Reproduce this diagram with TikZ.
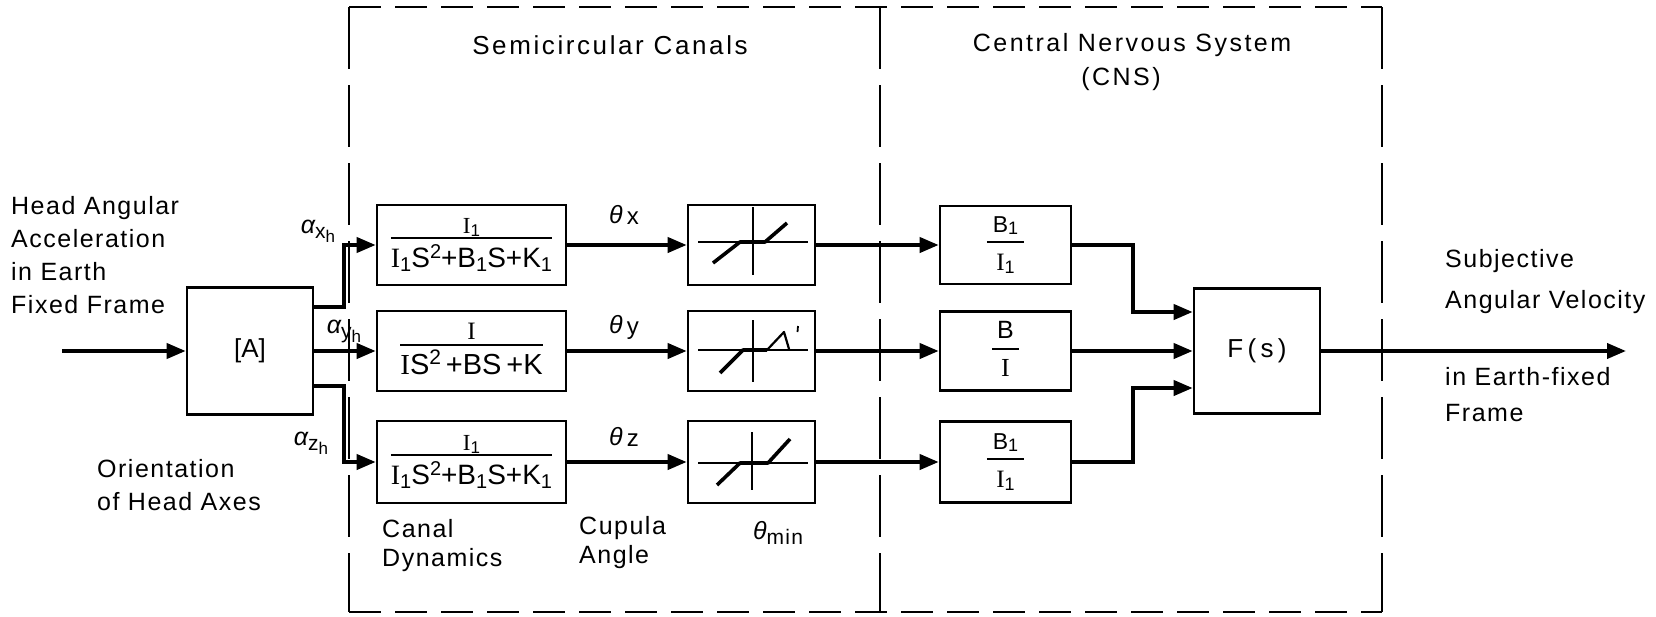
\documentclass[tikz,border=0pt]{standalone}
\usepackage{fontspec}
\setmainfont{Liberation Sans}
\newfontfamily\lab{Liberation Sans}[LetterSpace=6]
\newfontfamily\labw{Liberation Sans}[LetterSpace=10]
\newfontfamily\serifI{Liberation Serif}
\usetikzlibrary{arrows.meta}
\newcommand\Ib{{\serifI I}}
\newcommand\dn[3]{\raisebox{-#1}{\fontsize{#2}{#2}\selectfont #3}}
\newcommand\up[3]{\raisebox{#1}{\fontsize{#2}{#2}\selectfont #3}}
\setlength\arrayrulewidth{2.2pt}
% \frc{pad}{gap above bar}{strut below bar}{numerator}{denominator}
\newcommand\frc[5]{\begin{tabular}{@{\hspace{#1}}c@{\hspace{#1}}}#4\\[#2]\hline\rule{0pt}{#3}#5\end{tabular}}
\tikzset{
  blk/.style={draw, line width=2.6pt, inner sep=0pt},
  conn/.style={line width=3.8pt, -{Triangle[length=19pt,width=15pt]}},
  lbl/.style={font=\lab\fontsize{25}{33}\selectfont, inner sep=0pt},
  ttl/.style={font=\labw\fontsize{26}{30}\selectfont, inner sep=0pt},
  frameh/.style={line width=2pt, dash pattern=on 32pt off 14pt},
  framev/.style={line width=2pt, dash pattern=on 62pt off 16pt},
  axis/.style={line width=1.8pt},
  curve/.style={line width=3.6pt, line join=round},
}
\begin{document}
\begin{tikzpicture}[x=1pt,y=-1pt]
\useasboundingbox (0,0) rectangle (1656,616);
% dashed frame
\draw[frameh] (349,7) -- (1382,7);
\draw[frameh] (349,612) -- (1382,612);
\draw[framev] (349,7) -- (349,612);
\draw[framev] (880,7) -- (880,612);
\draw[framev] (1382,7) -- (1382,612);
% titles
\node[ttl] (t1) at (610,45) {Semicircular Canals};
\node[ttl, font=\labw\fontsize{25}{30}\selectfont] (t2) at (1132,45) {Central Nervous System};
\node[ttl, font=\labw\fontsize{25}{30}\selectfont] (t3) at (1121,79) {(CNS)};
% blocks
\node[blk, minimum width=126pt, minimum height=127pt, font=\fontsize{26}{28}\selectfont] (A) at (250,351) {[A]};
\node[blk, minimum width=189pt, minimum height=80pt] (C1) at (471.5,245)
  {\frc{0pt}{0pt}{28pt}{\fontsize{23}{24}\selectfont\Ib\dn{3pt}{17pt}{1}}{\fontsize{28}{30}\selectfont\Ib\dn{4pt}{20pt}{1}S\up{9pt}{20pt}{2}+B\dn{4pt}{20pt}{1}S+K\dn{4pt}{20pt}{1}}};
\node[blk, minimum width=189pt, minimum height=80pt] (C2) at (471.5,351)
  {\frc{0pt}{0pt}{29pt}{\fontsize{25}{26}\selectfont\Ib}{\fontsize{29}{30}\selectfont\Ib S\up{10pt}{21pt}{2}\,+BS\,+K}};
\node[blk, minimum width=189pt, minimum height=82pt] (C3) at (471.5,462)
  {\frc{0pt}{0pt}{28pt}{\fontsize{23}{24}\selectfont\Ib\dn{3pt}{17pt}{1}}{\fontsize{28}{30}\selectfont\Ib\dn{4pt}{20pt}{1}S\up{9pt}{20pt}{2}+B\dn{4pt}{20pt}{1}S+K\dn{4pt}{20pt}{1}}};
\node[blk, minimum width=127pt, minimum height=80pt] (T1) at (751.5,245) {};
\node[blk, minimum width=127pt, minimum height=80pt] (T2) at (751.5,351) {};
\node[blk, minimum width=127pt, minimum height=82pt] (T3) at (751.5,462) {};
\node[blk, minimum width=131pt, minimum height=78pt] (K1) at (1005.5,245)
  {\frc{6pt}{5pt}{27pt}{\fontsize{23}{25}\selectfont B\dn{2pt}{18pt}{1}}{\fontsize{25}{25}\selectfont\Ib\dn{3pt}{18pt}{1}}};
\node[blk, minimum width=131pt, minimum height=79pt] (K2) at (1005.5,351)
  {\frc{5pt}{5pt}{27pt}{\fontsize{25}{26}\selectfont B}{\fontsize{26}{26}\selectfont\Ib}};
\node[blk, minimum width=131pt, minimum height=81pt] (K3) at (1005.5,462)
  {\frc{6pt}{5pt}{27pt}{\fontsize{23}{25}\selectfont B\dn{2pt}{18pt}{1}}{\fontsize{25}{25}\selectfont\Ib\dn{3pt}{18pt}{1}}};
\node[blk, minimum width=126pt, minimum height=125pt, font=\lab\fontsize{26}{28}\selectfont] (F) at (1257,351) {F\,(\,s\,)};
% dead-zone characteristics
\begin{scope}[shift={(T1.center)}]
  \draw[axis] (-53.5,-3) -- (56.5,-3);
  \draw[axis] (1.5,-38) -- (1.5,30);
  \draw[curve] (-38.5,18) -- (-11.5,-3) -- (13.5,-3) -- (35.5,-22);
\end{scope}
\begin{scope}[shift={(T2.center)}]
  \draw[axis] (-53.5,-1) -- (56.5,-1);
  \draw[axis] (1.5,-31) -- (1.5,31);
  \draw[curve] (-31.5,22) -- (-8.5,-1) -- (15.5,-1);
  \draw[line width=2.2pt, line join=round] (15.5,-1) -- (32.5,-19) -- (37.5,-2);
  \draw[line width=1.8pt] (46.5,-25) -- (46,-19);
\end{scope}
\begin{scope}[shift={(T3.center)}]
  \draw[axis] (-53.5,1) -- (56.5,1);
  \draw[axis] (0.5,-30) -- (0.5,28);
  \draw[curve] (-34.5,23) -- (-11.5,1) -- (16.5,1) -- (38.5,-23);
\end{scope}
% connectors
\coordinate (in) at (62,351);
\coordinate (out) at (1626,351);
\draw[conn] (in) -- (A.west);
\draw[conn] ([yshift=44pt]A.east) -- ++(30,0) |- (C1.west);
\draw[conn] (A.east) -- (C2.west);
\draw[conn] ([yshift=-35pt]A.east) -- ++(30,0) |- (C3.west);
\draw[conn] (C1.east) -- (T1.west);
\draw[conn] (C2.east) -- (T2.west);
\draw[conn] (C3.east) -- (T3.west);
\draw[conn] (T1.east) -- (K1.west);
\draw[conn] (T2.east) -- (K2.west);
\draw[conn] (T3.east) -- (K3.west);
\draw[conn] (K1.east) -- ++(61,0) |- ([yshift=39pt]F.west);
\draw[conn] (K2.east) -- (F.west);
\draw[conn] (K3.east) -- ++(61,0) |- ([yshift=-37pt]F.west);
\draw[conn] (F.east) -- (out);
% labels
\node[lbl, anchor=west, align=left] (hd) at (11,255) {Head Angular\\Acceleration\\in Earth\\Fixed Frame};
\node[lbl, anchor=west, align=left] (ori) at (97,485) {Orientation\\of Head Axes};
\node[lbl, anchor=west, align=left, font=\lab\fontsize{25}{41}\selectfont] (sv1) at (1445,282) {Subjective\\Angular Velocity};
\node[lbl, anchor=west, align=left, font=\lab\fontsize{25}{36}\selectfont] (sv2) at (1445,395) {in Earth-fixed\\Frame};
\node[lbl, anchor=west, align=left, font=\lab\fontsize{25}{29}\selectfont] (cd) at (382,546) {Canal\\Dynamics};
\node[lbl, anchor=west, align=left, font=\lab\fontsize{25}{29}\selectfont] (ca) at (579,543) {Cupula\\Angle};
\node[lbl] (tm) at (778,533) {{\itshape θ}\dn{5pt}{21pt}{min}};
\node[lbl] (thx) at (624,215) {{\itshape θ}\,\dn{1pt}{24pt}{x}};
\node[lbl] (thy) at (624,327) {{\itshape θ}\,\dn{1pt}{24pt}{y}};
\node[lbl] (thz) at (624,437) {{\itshape θ}\,\dn{1pt}{24pt}{z}};
\node[lbl] (ax) at (318,231) {{\itshape α}\dn{5pt}{21pt}{x\dn{4pt}{17pt}{h}}};
\node[lbl] (ay) at (344,331) {{\itshape α}\dn{5pt}{21pt}{y\dn{4pt}{17pt}{h}}};
\node[lbl] (az) at (311,443) {{\itshape α}\dn{5pt}{21pt}{z\dn{4pt}{17pt}{h}}};
\end{tikzpicture}
\end{document}
